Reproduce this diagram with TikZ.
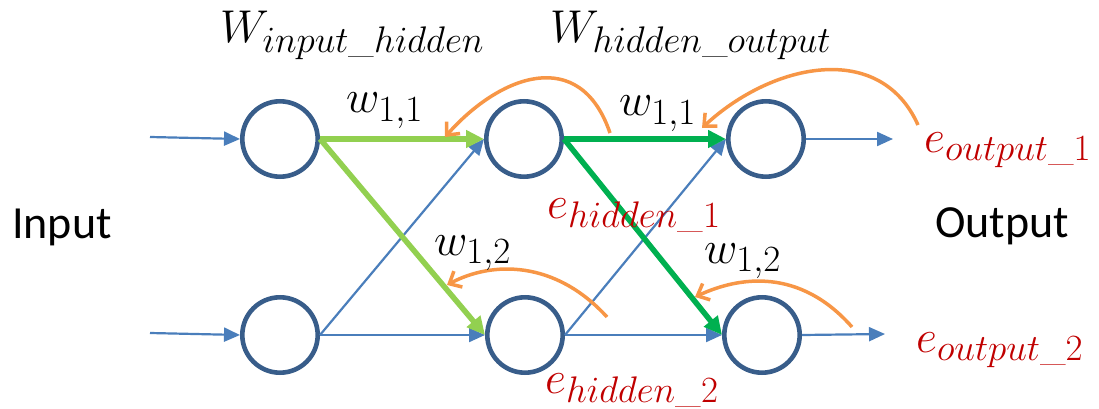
\documentclass[tikz,border=0pt]{standalone}
\usepackage{fix-cm}
\usepackage{amsmath}
\usepackage{fontspec}
\newfontfamily\calibri{Carlito}
\usetikzlibrary{arrows.meta}
\DeclareMathSizes{46}{46}{37}{26}
\definecolor{nblue}{RGB}{56,93,138}
\definecolor{ablue}{RGB}{74,126,187}
\definecolor{lgreen}{RGB}{146,208,80}
\definecolor{dgreen}{RGB}{0,176,80}
\definecolor{eorange}{RGB}{247,150,70}
\definecolor{ered}{RGB}{192,0,0}
\begin{document}
\begin{tikzpicture}[x=1pt,y=-1pt,
  neuron/.style={circle,draw=nblue,line width=4.6pt,minimum size=75.4pt,inner sep=0pt},
  conn/.style={draw=ablue,line width=2.2pt,-{Triangle[length=16pt,width=14pt]}},
  gconn/.style={line width=5.5pt,-{Triangle[length=18pt,width=17pt]}},
  back/.style={draw=eorange,line width=3.5pt,-{Straight Barb[length=10pt,width=18pt]}},
  mlbl/.style={font=\fontsize{46}{55}\selectfont,inner sep=0pt,anchor=base west},
  elbl/.style={mlbl,text=ered},
  txt/.style={font=\calibri\fontsize{46}{55}\selectfont,inner sep=0pt,anchor=base west}]
\useasboundingbox (0,0) rectangle (1099,409);

% neurons
\node[neuron] (in1) at (280,139) {};
\node[neuron] (in2) at (280,335) {};
\node[neuron] (h1) at (524,139) {};
\node[neuron] (h2) at (525,335) {};
\node[neuron] (o1) at (766,139) {};
\node[neuron] (o2) at (762,335) {};

% free ends
\coordinate (in1in) at (150,137);
\coordinate (in2in) at (150,333);
\coordinate (o1out) at (893,139);
\coordinate (o2out) at (885,334);

% blue connections
\draw[conn] (in1in) -- (in1.west);
\draw[conn] (in2in) -- (in2.west);
\draw[conn] (in2.east) -- (h1.west);
\draw[conn] (in2.east) -- (h2.west);
\draw[conn] (h2.east) -- (o1.west);
\draw[conn] (h2.east) -- (o2.west);
\draw[conn] (o1.east) -- (o1out);
\draw[conn] (o2.east) -- (o2out);

% green connections
\draw[gconn,draw=lgreen] (in1.east) -- (h1.west);
\draw[gconn,draw=lgreen] (in1.east) -- (h2.west);
\draw[gconn,draw=dgreen] (h1.east) -- (o1.west);
\draw[gconn,draw=dgreen] (h1.east) -- (o2.west);

% backprop arrows
\coordinate (b1s) at (610,133); \coordinate (b1e) at (445,137);
\coordinate (b2s) at (918,125); \coordinate (b2e) at (702,128);
\coordinate (b3s) at (607,317); \coordinate (b3e) at (447,285);
\coordinate (b4s) at (852,327); \coordinate (b4e) at (695,297);
\draw[back] (b1s) .. controls (580,45) and (500,75) .. (b1e);
\draw[back] (b2s) .. controls (880,40) and (772,63) .. (b2e);
\draw[back] (b3s) .. controls (555,260) and (492,261) .. (b3e);
\draw[back] (b4s) .. controls (800,268) and (740,276) .. (b4e);

% labels
\node[mlbl] (Wih) at (220,43) {$W_{input\_hidden}$};
\node[mlbl] (Who) at (550,43) {$W_{hidden\_output}$};
\node[mlbl] (w11a) at (346,113) {$w_{1,1}$};
\node[mlbl] (w11b) at (619,116) {$w_{1,1}$};
\node[mlbl] (w12a) at (434,255) {$w_{1,2}$};
\node[mlbl] (w12b) at (704,263) {$w_{1,2}$};
\node[elbl] (eh1) at (547,218) {$e_{hidden\_1}$};
\node[elbl] (eh2) at (545,393) {$e_{hidden\_2}$};
\node[elbl] (eo1) at (924,152) {$e_{output\_1}$};
\node[elbl] (eo2) at (916,352) {$e_{output\_2}$};
\node[txt] (inp) at (12,238) {Input};
\node[txt] (outp) at (935,237) {Output};
\end{tikzpicture}
\end{document}
